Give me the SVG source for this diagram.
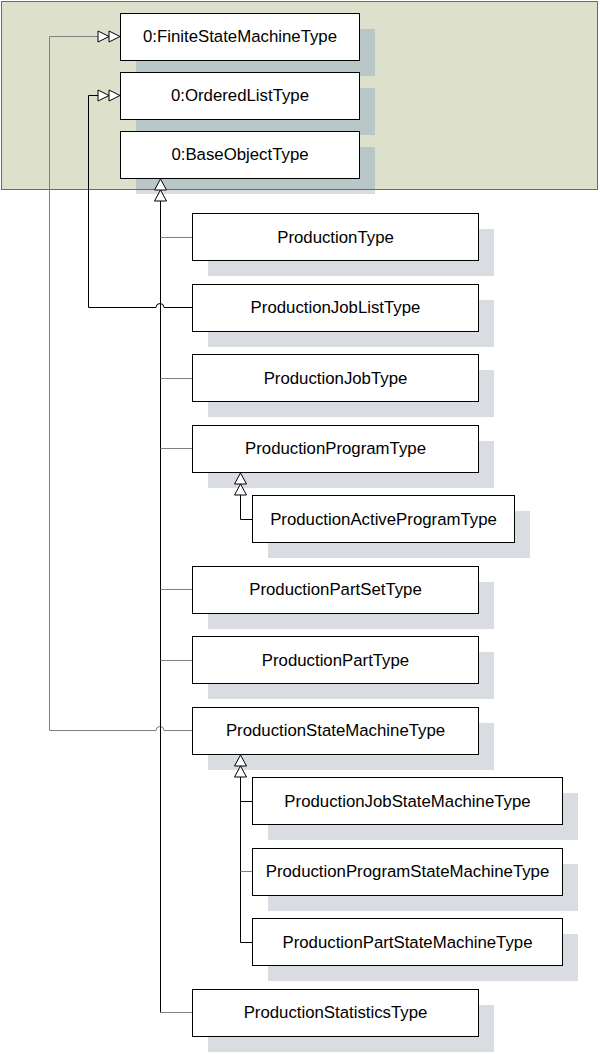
<svg xmlns="http://www.w3.org/2000/svg" width="600" height="1054" viewBox="0 0 600 1054">
<defs>
<style>
.box{fill:#fff;stroke:#000;stroke-width:1}
.sh{fill:#d9dce1}
.shg{fill:#b9c7c9}
.t{font-family:"Liberation Sans",Arial,sans-serif;font-size:16.8px;fill:#000;text-anchor:middle}
.c{fill:none;stroke:#000;stroke-width:1}
.cg{fill:none;stroke:#808080;stroke-width:1}
.tri{fill:#fff;stroke:#000;stroke-width:1}
</style>
</defs>
<rect width="600" height="1054" fill="#fff"/>
<rect x="136" y="147" width="239" height="47" class="sh"/>
<rect x="1.5" y="1.5" width="596" height="188" fill="#dde0ca" stroke="#6b6b6b" stroke-width="1"/>

<g id="FiniteStateMachineType">
<rect x="136" y="29" width="239" height="47" class="shg"/>
<rect x="120.5" y="13.5" width="239" height="47" class="box"/>
<text x="240" y="42" class="t">0:FiniteStateMachineType</text>
</g>
<g id="OrderedListType">
<rect x="136" y="88" width="239" height="47" class="shg"/>
<rect x="120.5" y="72.5" width="239" height="47" class="box"/>
<text x="240" y="101" class="t">0:OrderedListType</text>
</g>
<g id="BaseObjectType">
<rect x="136" y="147" width="239" height="42" class="shg"/>
<rect x="120.5" y="131.5" width="239" height="47" class="box"/>
<text x="240" y="160" class="t">0:BaseObjectType</text>
</g>

<g id="ProductionType">
<rect x="208" y="229" width="286" height="47" class="sh"/>
<rect x="192.5" y="213.5" width="286" height="47" class="box"/>
<text x="335.5" y="242.5" class="t">ProductionType</text>
</g>
<g id="ProductionJobListType">
<rect x="208" y="300" width="286" height="47" class="sh"/>
<rect x="192.5" y="284.5" width="286" height="47" class="box"/>
<text x="335.5" y="313" class="t">ProductionJobListType</text>
</g>
<g id="ProductionJobType">
<rect x="208" y="370" width="286" height="47" class="sh"/>
<rect x="192.5" y="354.5" width="286" height="47" class="box"/>
<text x="335.5" y="383.5" class="t">ProductionJobType</text>
</g>
<g id="ProductionProgramType">
<rect x="208" y="441" width="286" height="47" class="sh"/>
<rect x="192.5" y="425.5" width="286" height="47" class="box"/>
<text x="335.5" y="454" class="t">ProductionProgramType</text>
</g>
<g id="ProductionActiveProgramType">
<rect x="268" y="511" width="262" height="47" class="sh"/>
<rect x="252.5" y="495.5" width="262" height="47" class="box"/>
<text x="383.5" y="524.5" class="t">ProductionActiveProgramType</text>
</g>
<g id="ProductionPartSetType">
<rect x="208" y="582" width="286" height="47" class="sh"/>
<rect x="192.5" y="566.5" width="286" height="47" class="box"/>
<text x="335.5" y="595" class="t">ProductionPartSetType</text>
</g>
<g id="ProductionPartType">
<rect x="208" y="652" width="286" height="47" class="sh"/>
<rect x="192.5" y="636.5" width="286" height="47" class="box"/>
<text x="335.5" y="665.5" class="t">ProductionPartType</text>
</g>
<g id="ProductionStateMachineType">
<rect x="208" y="723" width="286" height="47" class="sh"/>
<rect x="192.5" y="707.5" width="286" height="47" class="box"/>
<text x="335.5" y="736" class="t">ProductionStateMachineType</text>
</g>
<g id="ProductionJobStateMachineType">
<rect x="268" y="793" width="310" height="47" class="sh"/>
<rect x="252.5" y="777.5" width="310" height="47" class="box"/>
<text x="407.5" y="806.5" class="t">ProductionJobStateMachineType</text>
</g>
<g id="ProductionProgramStateMachineType">
<rect x="268" y="864" width="310" height="47" class="sh"/>
<rect x="252.5" y="848.5" width="310" height="47" class="box"/>
<text x="407.5" y="877" class="t">ProductionProgramStateMachineType</text>
</g>
<g id="ProductionPartStateMachineType">
<rect x="268" y="934" width="310" height="47" class="sh"/>
<rect x="252.5" y="918.5" width="310" height="47" class="box"/>
<text x="407.5" y="947.5" class="t">ProductionPartStateMachineType</text>
</g>
<g id="ProductionStatisticsType">
<rect x="208" y="1005" width="286" height="47" class="sh"/>
<rect x="192.5" y="989.5" width="286" height="47" class="box"/>
<text x="335.5" y="1018" class="t">ProductionStatisticsType</text>
</g>

<g id="connectors">
<path class="cg" d="M192,730.5 H164 A4 4 0 0 0 156 730.5 H49.5 V36.5 H98"/>
<path class="c" d="M192,307.5 H164 A4 4 0 0 0 156 307.5 H88.5 V95.5 H98"/>
<path class="c" d="M160.5,201 V1012.5" stroke-width="1.6"/>
<path class="cg" d="M160.5,1012.5 H192"/>
<path class="cg" d="M160.5,237.5 H192 M160.5,378.5 H192 M160.5,448.5 H192 M160.5,589.5 H192 M160.5,660.5 H192"/>
<path class="c" d="M240.5,495 V519.5 H252"/>
<path class="c" d="M240.5,777 V942.5 H252 M240.5,801.5 H252"/>
<path class="cg" d="M240.5,871.5 H252"/>
<polygon class="tri" points="120,36.5 109,31 109,42"/>
<polygon class="tri" points="109,36.5 98,31 98,42"/>
<polygon class="tri" points="120,95.5 109,90 109,101"/>
<polygon class="tri" points="109,95.5 98,90 98,101"/>
<polygon class="tri" points="160.5,179 154.5,190 166.5,190"/>
<polygon class="tri" points="160.5,190 154.5,201 166.5,201"/>
<polygon class="tri" points="240.5,473 234.5,484 246.5,484"/>
<polygon class="tri" points="240.5,484 234.5,495 246.5,495"/>
<polygon class="tri" points="240.5,755 234.5,766 246.5,766"/>
<polygon class="tri" points="240.5,766 234.5,777 246.5,777"/>
</g>
</svg>
